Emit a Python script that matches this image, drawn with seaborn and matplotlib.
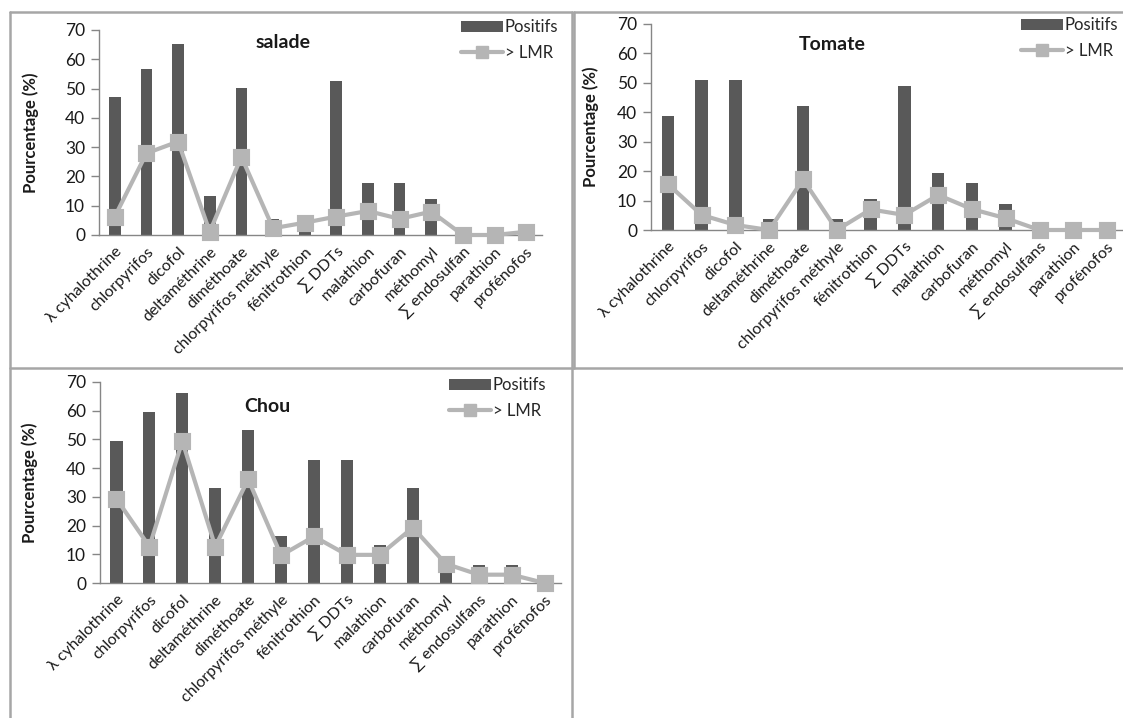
import matplotlib
matplotlib.use("Agg")
import matplotlib.pyplot as plt
from matplotlib.lines import Line2D
from matplotlib.patches import Patch
import seaborn as sns
import pandas as pd

# ---------------- data ----------------
cats_salade = ["λ cyhalothrine", "chlorpyrifos", "dicofol", "deltaméthrine", "diméthoate",
               "chlorpyrifos méthyle", "fénitrothion", "∑ DDTs", "malathion", "carbofuran",
               "méthomyl", "∑ endosulfan", "parathion", "profénofos"]
cats_other = ["λ cyhalothrine", "chlorpyrifos", "dicofol", "deltaméthrine", "diméthoate",
              "chlorpyrifos méthyle", "fénitrothion", "∑ DDTs", "malathion", "carbofuran",
              "méthomyl", "∑ endosulfans", "parathion", "profénofos"]

salade_positifs = [47.0, 56.6, 65.1, 13.3, 50.1, 5.3, 3.5, 52.6, 17.9, 17.9, 12.3, 0, 0, 1.0]
salade_lmr = [6.3, 27.9, 31.9, 1.1, 26.7, 2.3, 4.2, 6.3, 8.2, 5.5, 8.0, 0, 0, 1.1]

tomate_positifs = [38.7, 51.0, 51.0, 3.6, 42.1, 3.6, 10.5, 49.0, 19.5, 16.1, 8.7, 0, 0, 1.2]
tomate_lmr = [15.6, 5.1, 1.7, 0, 17.2, 0, 7.0, 5.1, 11.9, 7.1, 4.0, 0, 0, 0]

chou_positifs = [49.5, 59.6, 66.3, 33.0, 53.2, 16.4, 43.0, 43.0, 13.3, 33.0, 5.0, 6.1, 6.1, 0]
chou_lmr = [29.3, 12.7, 49.4, 12.7, 36.1, 9.6, 16.2, 9.8, 9.8, 19.3, 6.7, 2.9, 2.9, 0]

yticks = [0, 10, 20, 30, 40, 50, 60, 70]
legend_labels = ["Positifs", "> LMR"]
ylabel = "Pourcentage (%)"

# ---------------- style ----------------
sns.set_style("white")
plt.rcParams['font.family'] = ['Lato', 'DejaVu Sans']

W, H = 1123, 718
fig = plt.figure(figsize=(W / 100, H / 100), dpi=100)

BAR = "#595959"
LINE = "#b5b5b5"
AX = "#868686"
TXT = "#1a1a1a"


def fx(px):
    return px / W


def fy(py):
    return 1 - py / H


panels = [
    ("salade", cats_salade, salade_positifs, salade_lmr, (99, 30, 542, 235), (0.415, 0.94), -0.135, (458, 16)),
    ("Tomate", cats_other, tomate_positifs, tomate_lmr, (651, 24, 1124, 230), (0.383, 0.90), -0.11, (1018, 14)),
    ("Chou", cats_other, chou_positifs, chou_lmr, (100, 382, 561, 583), (0.362, 0.876), -0.135, (446, 374)),
]

for title, cats, pos, lmr, box, tpos, ylx, leg in panels:
    l, t, r, b = box
    ax = fig.add_axes([fx(l), fy(b), fx(r) - fx(l), fy(t) - fy(b)])
    df = pd.DataFrame({"cat": cats, "pos": pos, "lmr": lmr})
    sns.barplot(data=df, x="cat", y="pos", color=BAR, saturation=1, width=0.37, ax=ax,
                edgecolor="none", errorbar=None)
    sns.pointplot(data=df, x="cat", y="lmr", color=LINE, markers="s", errorbar=None, ax=ax,
                  markersize=10.5, linewidth=3)
    ax.set_xlim(-0.5, len(cats) - 0.5)
    ax.set_ylim(0, 70)
    ax.set_yticks(yticks)
    ax.set_yticklabels([str(v) for v in yticks], fontsize=12.5, color=TXT)
    ax.set_xticks(range(len(cats)))
    ax.set_xticklabels(cats, rotation=45, ha="right", rotation_mode="anchor", fontsize=11.5, color=TXT)
    ax.set_xticks([i - 0.5 for i in range(len(cats) + 1)], minor=True)
    ax.tick_params(axis="x", which="major", length=0, pad=7)
    ax.tick_params(axis="x", which="minor", length=5, direction="out", color=AX, width=1)
    ax.tick_params(axis="y", length=6, direction="out", color=AX, width=1, left=True, pad=4)
    for s in ["top", "right"]:
        ax.spines[s].set_visible(False)
    for s in ["left", "bottom"]:
        ax.spines[s].set_color(AX)
        ax.spines[s].set_linewidth(1)
    ax.set_xlabel("")
    ax.set_ylabel(ylabel, fontsize=12, fontweight="bold", color=TXT)
    ax.yaxis.set_label_coords(ylx, 0.5)
    ax.text(tpos[0], tpos[1], title, transform=ax.transAxes, ha="center", va="center",
            fontsize=14, fontweight="bold", color=TXT)
    ax.patch.set_alpha(0)
    for ln in ax.lines:
        ln.set_clip_on(False)
        ln.set_zorder(5)
    handles = [Patch(facecolor=BAR, edgecolor="none"),
               Line2D([0], [0], color=LINE, lw=3, marker="s", markersize=9)]
    fig.legend(handles, legend_labels, loc="upper left", bbox_to_anchor=(fx(leg[0]), fy(leg[1])),
               frameon=False, fontsize=12, handlelength=2.5, handletextpad=0.1,
               labelspacing=0.55, borderaxespad=0, borderpad=0.2)

# panel borders
BC = "#a6a6a6"
segs = [
    ((10, 12), (572, 12)), ((10, 12), (10, 718)), ((572, 12), (572, 718)),
    ((10, 368), (1123, 368)), ((574, 12), (1123, 12)), ((574, 12), (574, 368)),
]
for (x0, y0), (x1, y1) in segs:
    fig.add_artist(Line2D([fx(x0), fx(x1)], [fy(y0), fy(y1)], color=BC, lw=1.8,
                          transform=fig.transFigure))

fig.savefig("out.png", dpi=100, facecolor="white")
